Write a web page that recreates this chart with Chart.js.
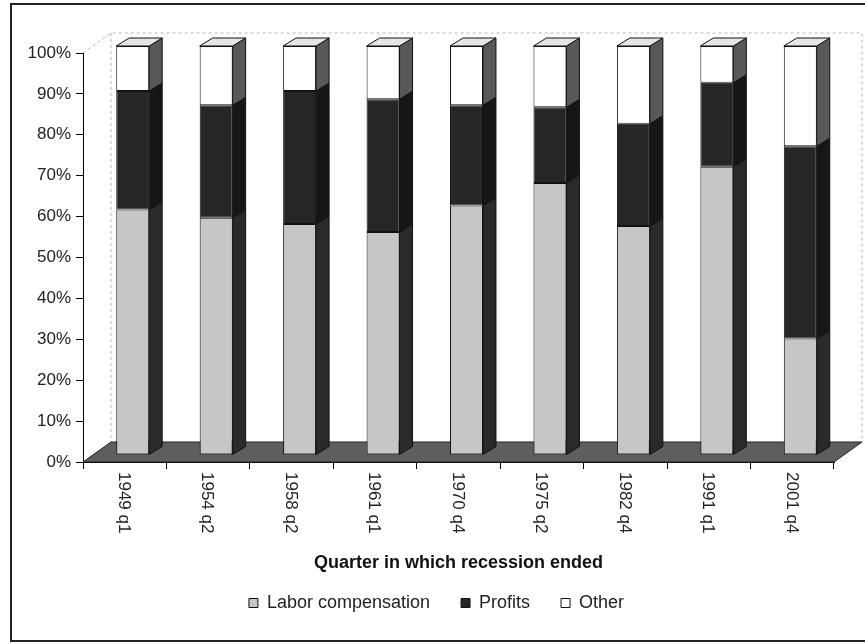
<!DOCTYPE html>
<html>
<head>
<meta charset="utf-8">
<script src="https://cdn.jsdelivr.net/npm/chart.js@4.4.0/dist/chart.umd.min.js"></script>
<style>
  html, body { margin: 0; padding: 0; background: #fff; }
</style>
</head>
<body>
<canvas id="chart" width="865" height="643"></canvas>
<script>
const quarters = ['1949 q1', '1954 q2', '1958 q2', '1961 q1', '1970 q4', '1975 q2', '1982 q4', '1991 q1', '2001 q4']
const laborShare = [60, 58, 56.5, 54.5, 61, 66.5, 56, 70.5, 28.5]
const profitsShare = [29, 27.5, 32.5, 32.5, 24.5, 18.5, 25, 20.5, 47]
const otherShare = [11, 14.5, 11, 13, 14.5, 15, 19, 9, 24.5]

const FONT = '"Liberation Sans", Arial, sans-serif'
// depth of the floor / back wall, and of each bar
const wall = { dx: 28, dy: -20 }
const barShift = { dx: 8, dy: -7 }
const barDepth = { dx: 13, dy: -8 }
const sideColors = ['#2a2a2a', '#161616', '#585858']

const depthPlugin = {
  id: 'depth',
  beforeDraw(chart) {
    const ctx = chart.ctx
    ctx.save()
    ctx.fillStyle = '#fff'
    ctx.fillRect(0, 0, chart.width, chart.height)
    ctx.strokeStyle = '#222'
    ctx.lineWidth = 2
    ctx.strokeRect(11, 4, chart.width, 637)
    ctx.restore()
  },
  beforeDatasetsDraw(chart) {
    const { ctx, chartArea: a } = chart
    ctx.save()
    // back wall outline
    ctx.strokeStyle = '#b5b5b5'
    ctx.lineWidth = 1
    ctx.setLineDash([3, 3])
    ctx.beginPath()
    ctx.moveTo(a.left, a.top)
    ctx.lineTo(a.left + wall.dx, a.top + wall.dy)
    ctx.lineTo(a.right + wall.dx, a.top + wall.dy)
    ctx.lineTo(a.right + wall.dx, a.bottom + wall.dy)
    ctx.moveTo(a.left + wall.dx, a.top + wall.dy)
    ctx.lineTo(a.left + wall.dx, a.bottom + wall.dy)
    ctx.stroke()
    ctx.setLineDash([])
    // floor
    ctx.beginPath()
    ctx.moveTo(a.left, a.bottom)
    ctx.lineTo(a.left + wall.dx, a.bottom + wall.dy)
    ctx.lineTo(a.right + wall.dx, a.bottom + wall.dy)
    ctx.lineTo(a.right, a.bottom)
    ctx.closePath()
    ctx.fillStyle = '#5e5e5e'
    ctx.fill()
    ctx.strokeStyle = '#222'
    ctx.stroke()
    ctx.restore()
    // bars stand a bit back on the floor
    ctx.save()
    ctx.translate(barShift.dx, barShift.dy)
  },
  afterDatasetsDraw(chart) {
    const ctx = chart.ctx
    const last = chart.data.datasets.length - 1
    chart.data.datasets.forEach((ds, i) => {
      const meta = chart.getDatasetMeta(i)
      meta.data.forEach((bar) => {
        const { x, y, base, width } = bar.getProps(['x', 'y', 'base', 'width'], true)
        const left = x - width / 2
        const right = x + width / 2
        ctx.lineWidth = 1
        ctx.strokeStyle = '#111'
        ctx.beginPath()
        ctx.moveTo(right, y)
        ctx.lineTo(right + barDepth.dx, y + barDepth.dy)
        ctx.lineTo(right + barDepth.dx, base + barDepth.dy)
        ctx.lineTo(right, base)
        ctx.closePath()
        ctx.fillStyle = sideColors[i]
        ctx.fill()
        ctx.stroke()
        if (i === last) {
          ctx.beginPath()
          ctx.moveTo(left, y)
          ctx.lineTo(left + barDepth.dx, y + barDepth.dy)
          ctx.lineTo(right + barDepth.dx, y + barDepth.dy)
          ctx.lineTo(right, y)
          ctx.closePath()
          ctx.fillStyle = '#e6e6e6'
          ctx.fill()
          ctx.stroke()
        }
      })
    })
    ctx.restore()
  },
  afterDraw(chart) {
    // category labels read top to bottom
    const ctx = chart.ctx
    const xs = chart.scales.x
    ctx.save()
    ctx.font = '17px ' + FONT
    ctx.fillStyle = '#222'
    ctx.textAlign = 'left'
    ctx.textBaseline = 'middle'
    quarters.forEach((q, i) => {
      ctx.save()
      ctx.translate(xs.getPixelForValue(i) - 1, xs.top + 10)
      ctx.rotate(Math.PI / 2)
      ctx.fillText(q, 0, 0)
      ctx.restore()
    })
    ctx.restore()
  }
}

const ctx = document.getElementById('chart').getContext('2d')
const chart = new Chart(ctx, {
  type: 'bar',
  data: {
    labels: quarters,
    datasets: [
      { label: 'Labor compensation', data: laborShare, backgroundColor: '#c6c6c6' },
      { label: 'Profits', data: profitsShare, backgroundColor: '#262626' },
      { label: 'Other', data: otherShare, backgroundColor: '#ffffff' }
    ].map((ds) => Object.assign(ds, {
      borderColor: '#111',
      borderWidth: 1,
      borderSkipped: false,
      barPercentage: 0.395,
      categoryPercentage: 1
    }))
  },
  options: {
    responsive: false,
    devicePixelRatio: 1,
    animation: false,
    layout: { padding: { left: 8, right: 0, top: 53, bottom: 21 } },
    plugins: {
      tooltip: { enabled: false },
      legend: {
        position: 'bottom',
        labels: {
          font: { family: FONT, size: 18 },
          color: '#222',
          boxWidth: 9,
          boxHeight: 9,
          padding: 31
        }
      }
    },
    scales: {
      x: {
        stacked: true,
        grid: { drawOnChartArea: false, drawTicks: true, tickLength: 7, color: '#000' },
        border: { display: true, color: '#000' },
        ticks: { display: false },
        title: {
          display: true,
          text: 'Quarter in which recession ended',
          font: { family: FONT, size: 18, weight: 'bold' },
          color: '#111',
          padding: { top: 0, bottom: -11 }
        },
        afterFit(scale) { scale.height = 101 }
      },
      y: {
        stacked: true,
        min: 0,
        max: 100,
        ticks: {
          stepSize: 10,
          padding: 5,
          color: '#222',
          font: { family: FONT, size: 17 },
          callback: (v) => v + '%'
        },
        grid: { drawOnChartArea: false, drawTicks: true, tickLength: 7, color: '#000' },
        border: { display: true, color: '#000' },
        afterFit(scale) { scale.width = 75 }
      },
      yRight: {
        type: 'linear',
        position: 'right',
        grid: { display: false },
        border: { display: false },
        ticks: { display: false },
        afterFit(scale) { scale.width = 31 }
      }
    }
  },
  plugins: [depthPlugin]
})
</script>
</body>
</html>
